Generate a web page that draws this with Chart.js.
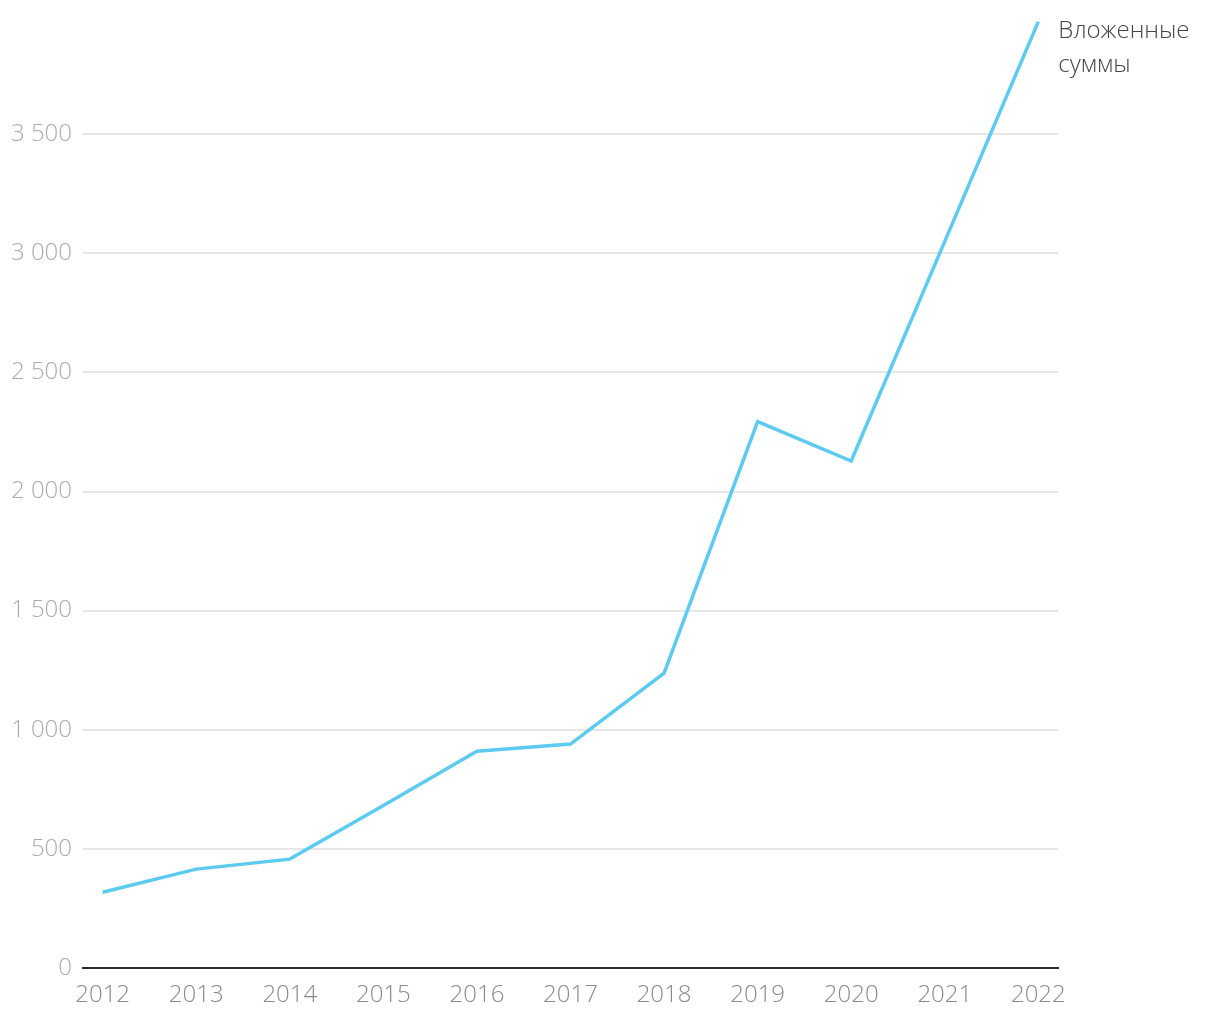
<!DOCTYPE html>
<html>
<head>
<meta charset="utf-8">
<script src="https://cdn.jsdelivr.net/npm/chart.js@4/dist/chart.umd.min.js"></script>
<style>
  html, body { margin: 0; padding: 0; background: #fff; }
  #wrap { width: 1220px; height: 1020px; position: relative; }
</style>
</head>
<body>
<div id="wrap"><canvas id="c"></canvas></div>
<script>
const years = [2012, 2013, 2014, 2015, 2016, 2017, 2018, 2019, 2020, 2021, 2022];
const invested = [318, 415, 457, 682, 910, 940, 1238, 2293, 2128, 3050, 3972];
const seriesLabel = ['Вложенные', 'суммы'];
const yTicks = [0, 500, 1000, 1500, 2000, 2500, 3000, 3500];

function fmt(v) {
  return String(v).replace(/\B(?=(\d{3})+(?!\d))/g, ' ');
}

const endLabel = {
  id: 'endLabel',
  afterDatasetsDraw(chart) {
    const meta = chart.getDatasetMeta(0);
    const p = meta.data[meta.data.length - 1];
    const ctx = chart.ctx;
    ctx.save();
    ctx.fillStyle = '#444444';
    ctx.font = '300 24px "Open Sans"';
    ctx.textAlign = 'left';
    ctx.textBaseline = 'alphabetic';
    seriesLabel.forEach((t, i) => ctx.fillText(t, p.x + 20, p.y + 16 + i * 34));
    ctx.restore();
  }
};

new Chart(document.getElementById('c'), {
  type: 'line',
  data: {
    datasets: [{
      data: years.map((y, i) => ({ x: y, y: invested[i] })),
      borderColor: '#5ccbef',
      borderWidth: 3.5,
      pointRadius: 0,
      tension: 0,
      fill: false,
      clip: false
    }]
  },
  options: {
    responsive: true,
    maintainAspectRatio: false,
    animation: false,
    layout: { padding: { top: 15, right: 162, left: 0, bottom: 0 } },
    plugins: { legend: { display: false }, tooltip: { enabled: false } },
    scales: {
      x: {
        type: 'linear',
        min: 2011.79,
        max: 2022.21,
        afterBuildTicks: axis => { axis.ticks = years.map(v => ({ value: v })); },
        afterFit: s => { s.height = 52; s.paddingLeft = 0; s.paddingRight = 0; },
        grid: { display: false, drawTicks: false },
        border: { display: true, color: '#2b2b2b', width: 2 },
        ticks: {
          color: '#8a8a8a',
          font: { family: 'Open Sans', weight: '300', size: 24 },
          padding: 13,
          maxRotation: 0,
          autoSkip: false,
          callback: v => String(v)
        }
      },
      y: {
        min: 0,
        max: 4000,
        afterBuildTicks: axis => { axis.ticks = yTicks.map(v => ({ value: v })); },
        afterFit: s => { s.width = 83; s.paddingTop = 0; s.paddingBottom = 0; },
        grid: { color: '#e6e6e6', lineWidth: 2, drawTicks: false },
        border: { display: false },
        ticks: {
          color: '#ababab',
          font: { family: 'Open Sans', weight: '300', size: 24 },
          padding: 11,
          callback: v => fmt(v)
        }
      }
    }
  },
  plugins: [endLabel]
});
</script>
</body>
</html>
